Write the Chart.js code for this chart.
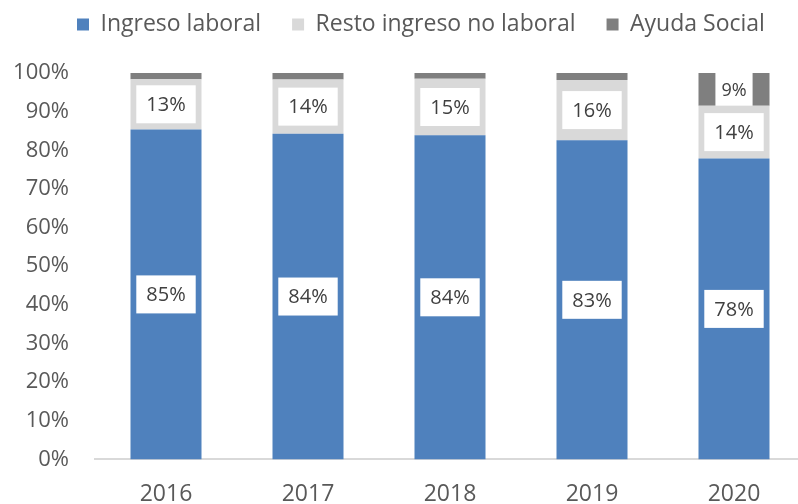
<!DOCTYPE html>
<html>
<head>
<meta charset="utf-8">
<script src="https://cdn.jsdelivr.net/npm/chart.js@4.4.0/dist/chart.umd.min.js"></script>
<style>
  html, body { margin: 0; padding: 0; background: #fff; overflow: hidden; }
  #wrap { width: 798px; height: 504px; overflow: hidden; }
</style>
</head>
<body>
<div id="wrap"><canvas id="my-chart" width="820" height="529"></canvas></div>
<script>
'use strict';

// ******** DATA **************
let years = ['2016', '2017', '2018', '2019', '2020'];
let ingresoLaboral = [85.4, 84.3, 83.9, 82.6, 77.9];
let restoIngreso = [13.0, 14.0, 14.6, 15.6, 13.6];
let ayudaSocial = [1.6, 1.7, 1.5, 1.8, 8.5];
let yTicks = [0, 10, 20, 30, 40, 50, 60, 70, 80, 90, 100];

let textGrey = '#595959';
let fontName = '"Open Sans", "Noto Sans", sans-serif';

// ********* LABEL PLUGIN (white boxes with % text) *************
let labelBoxes = {
  id: 'labelBoxes',
  afterDatasetsDraw(chart) {
    let ctx = chart.ctx;
    chart.data.datasets.forEach(function (ds, i) {
      let meta = chart.getDatasetMeta(i);
      meta.data.forEach(function (bar, j) {
        let v = ds.data[j];
        if (v < 5) return;
        let txt = Math.round(v) + '%';
        let small = i === 2;
        let fs = small ? 18 : 20;
        ctx.save();
        ctx.font = fs + 'px ' + fontName;
        let w = ctx.measureText(txt).width + (small ? 12 : 20);
        let segH = Math.abs(bar.base - bar.y);
        let h = Math.min(38, segH);
        let cy = (bar.y + bar.base) / 2;
        ctx.fillStyle = '#ffffff';
        ctx.fillRect(bar.x - w / 2, cy - h / 2, w, h);
        ctx.fillStyle = '#404040';
        ctx.textAlign = 'center';
        ctx.textBaseline = 'middle';
        ctx.fillText(txt, bar.x, cy + 1);
        ctx.restore();
      });
    });
  }
};

// *** legend: extra room below it and a small shift to sit like the original ***
let legendTweak = {
  id: 'legendTweak',
  beforeInit(chart) {
    let legend = chart.legend;
    let origFit = legend.fit;
    let origDraw = legend.draw;
    legend.fit = function () {
      origFit.call(legend);
      legend.height += 9;
    };
    legend.draw = function () {
      chart.ctx.save();
      chart.ctx.translate(46, -18);
      origDraw.call(legend);
      chart.ctx.restore();
    };
  }
};

// ********* CHART *************
let canvasElem = document.getElementById('my-chart');

new Chart(canvasElem, {
  type: 'bar',
  data: {
    labels: years,
    datasets: [
      { label: 'Ingreso laboral', data: ingresoLaboral, backgroundColor: '#4F81BD' },
      { label: 'Resto ingreso no laboral', data: restoIngreso, backgroundColor: '#D9D9D9' },
      { label: 'Ayuda Social', data: ayudaSocial, backgroundColor: '#7F7F7F' }
    ]
  },
  options: {
    responsive: false,
    animation: false,
    layout: { padding: { top: 0, right: 15, left: 0, bottom: 0 } },
    datasets: {
      bar: { categoryPercentage: 1, barPercentage: 0.5 }
    },
    scales: {
      x: {
        stacked: true,
        grid: { display: false, drawTicks: false },
        border: { display: true, color: '#D9D9D9', width: 2 },
        ticks: { color: textGrey, font: { family: fontName, size: 23 }, padding: 21 }
      },
      y: {
        stacked: true,
        min: 0,
        max: 100,
        afterBuildTicks: function (scale) {
          scale.ticks = yTicks.map(function (v) { return { value: v }; });
        },
        afterFit: function (scale) { scale.width = 95; },
        grid: { display: false, drawTicks: false },
        border: { display: false },
        ticks: {
          color: textGrey,
          font: { family: fontName, size: 22 },
          padding: 26,
          callback: function (v) { return v + '%'; }
        }
      }
    },
    plugins: {
      tooltip: { enabled: false },
      legend: {
        position: 'top',
        align: 'start',
        labels: {
          color: textGrey,
          font: { family: fontName, size: 23 },
          boxWidth: 12,
          boxHeight: 12,
          padding: 31
        }
      }
    }
  },
  plugins: [labelBoxes, legendTweak]
});
</script>
</body>
</html>
